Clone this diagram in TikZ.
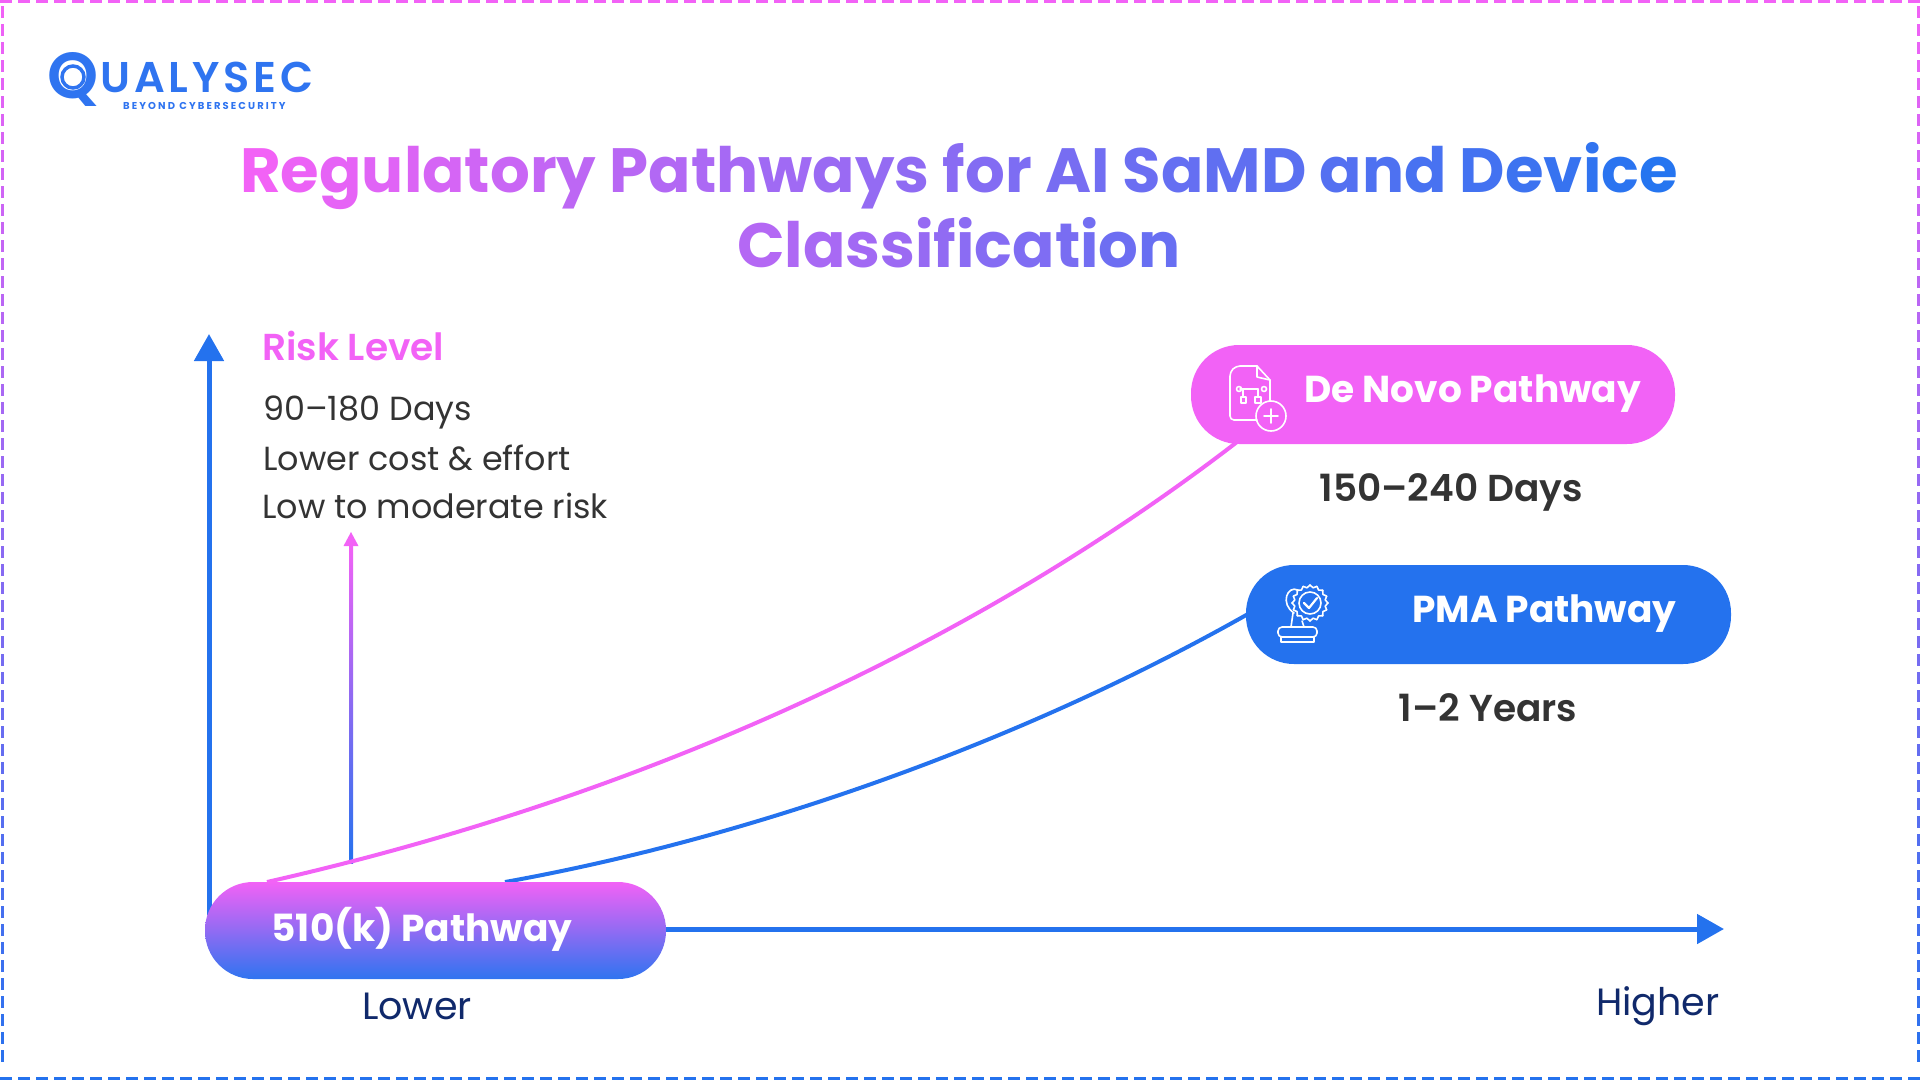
\documentclass[tikz,border=0pt]{standalone}
\usepackage{fontspec}
\setmainfont{Poppins}
\newfontfamily\semifont{Poppins SemiBold}
\usetikzlibrary{calc,arrows.meta}
\definecolor{qpink}{HTML}{F262F6}
\definecolor{qblue}{HTML}{2472EE}
\definecolor{qlogo}{HTML}{2F74F0}
\definecolor{qnavy}{HTML}{10296B}
\definecolor{qtext}{HTML}{333333}
\newcount\gradpos
\def\gradscan#1{\ifx#1\relax\else\textcolor{qpink!\the\gradpos!qlogo}{#1}\global\advance\gradpos by -3 \expandafter\gradscan\fi}
\newcommand\gradword[1]{\gradscan#1\relax}
\newcommand\fsize[1]{\fontsize{#1}{#1}\selectfont}
\tikzset{
  txt/.style={anchor=base west,inner sep=0pt},
  mid/.style={anchor=base,inner sep=0pt},
  pill/.style={rounded corners=48pt,inner sep=0pt,minimum height=99pt},
  axisline/.style={draw=qblue,line width=5pt,-{Triangle[length=27pt,width=29pt]}},
  curveline/.style={line width=4pt},
  iconline/.style={draw=white,line width=1.6pt,line join=round,line cap=round},
}
\begin{document}
\begin{tikzpicture}[x=1pt,y=-1pt]
  \useasboundingbox (0,0) rectangle (1920,1080);
  % dashed frame
  \draw[qpink,line width=3pt,dash pattern=on 12pt off 6pt] (0,1.5) -- (1920,1.5);
  \draw[qblue,line width=3pt,dash pattern=on 12pt off 6pt] (0,1078) -- (1920,1078);
  \foreach \yy in {6,24,...,1062} {
    \pgfmathsetmacro\mixv{100-\yy/10.8}
    \draw[qpink!\mixv!qblue,line width=3pt] (2,\yy) -- +(0,12);
    \draw[qpink!\mixv!qblue,line width=3pt] (1918,\yy) -- +(0,12);
  }
  % logo
  \node[txt,text=qlogo] (logoq) at (47,98) {\semifont\fsize{65}Q};
  \node[txt,text=qlogo] (logoname) at (100,92)
    {\semifont\fsize{43}\addfontfeature{LetterSpace=9}UALYSEC};
  \node[txt,text=qlogo] (logotag) at (123,109)
    {\bfseries\fsize{10}\addfontfeature{LetterSpace=21}BEYOND CYBERSECURITY};
  \draw[qlogo,line width=3.5pt] (73,77) circle (11);
  % title
  \gradpos=100
  \node[mid] (titleone) at (959,192.5) {\bfseries\fsize{62.5}\gradword{Regulatory} \gradword{Pathways}
    \gradword{for} \gradword{AI} \gradword{SaMD} \gradword{and} \gradword{Device}};
  \gradpos=68
  \node[mid] (titletwo) at (959,267) {\bfseries\fsize{62.5}\gradword{Classification}};
  % axes
  \coordinate (ytip) at (209,334);
  \coordinate (ybase) at (209,915);
  \coordinate (xtip) at (1724,929);
  \draw[axisline] (ybase) -- (ytip);
  % risk arrow
  \coordinate (risktip) at (351,532);
  \fill[top color=qpink,bottom color=qblue] (349,545) rectangle (353,863);
  \fill[qpink] (risktip) -- (358.5,546) -- (343.5,546) -- cycle;
  % curves
  \coordinate (pinkstart) at (267,882);
  \coordinate (pinkend) at (1237,442);
  \coordinate (bluestart) at (505,882);
  \coordinate (blueend) at (1248,614);
  \draw[curveline,qpink] (pinkstart) .. controls (650,795) and (980,640) .. (pinkend);
  \draw[curveline,qblue] (bluestart) .. controls (750,838) and (1020,743) .. (blueend);
  % pills
  \node[pill,minimum width=461pt,minimum height=97pt,top color=qpink,bottom color=qlogo] (pathk) at (435.5,930.5) {};
  \node[pill,minimum width=484pt,fill=qpink] (denovo) at (1433,394.5) {};
  \node[pill,minimum width=485pt,fill=qblue] (pma) at (1488.5,614.5) {};
  \draw[axisline] (pathk.east |- xtip) -- (xtip);
  % pill texts
  \node[mid,text=white] (pathklabel) at (422,941.5) {\bfseries\fsize{37.5}510(k) Pathway};
  \node[txt,text=white] (denovolabel) at (1304,402.5) {\bfseries\fsize{37.5}De Novo Pathway};
  \node[txt,text=white] (pmalabel) at (1412,622.5) {\bfseries\fsize{37.5}PMA Pathway};
  % de novo icon
  \draw[iconline,rounded corners=4pt] (1257,366) -- (1236,366) -- (1230,372) -- (1230,420) -- (1257,420);
  \draw[iconline] (1257,366) -- (1270,380) -- (1270,401);
  \draw[iconline] (1257,366) -- (1257,377) -- (1270,380);
  \draw[iconline] (1271,416) circle (15);
  \draw[iconline] (1264,416) -- (1278,416) (1271,409) -- (1271,423);
  \draw[iconline] (1240,389) -- (1258,389);
  \draw[iconline] (1243,389) -- (1243,397);
  \draw[iconline] (1258,389) -- (1258,397);
  \draw[iconline] (1239,389) circle (2.5) (1264,389) circle (2.5);
  \draw[iconline] (1241,397) rectangle (1246,403) (1255,397) rectangle (1261,403);
  % pma icon
  \coordinate (gear) at (1310,603);
  \foreach \aa in {0,22.5,...,337.5} {
    \draw[iconline] ($(gear)+(\aa:18)$) -- ($(gear)+(\aa+11.25:15.5)$) -- ($(gear)+(\aa+22.5:18)$);
  }
  \draw[iconline] (gear) circle (11);
  \draw[iconline,line width=2.2pt] (1304,603) -- (1309,608) -- (1317,598);
  \draw[iconline] (1298,590) .. controls (1287,585) and (1280,604) .. (1294,613);
  \draw[iconline] (1293,613) -- (1291,627) (1302,621) -- (1304,627);
  \draw[iconline,rounded corners=4pt] (1278,637) rectangle (1317,627);
  \draw[iconline] (1281,637) -- (1281,642) -- (1314,642) -- (1314,637);
  % labels
  \node[txt,text=qpink] (risk) at (262,360) {\semifont\fsize{37.5}Risk Level};
  \node[txt,text=qtext] (days) at (263,420) {\fsize{33.4}90–180 Days};
  \node[txt,text=qtext] (cost) at (263,470) {\fsize{33.4}Lower cost \& effort};
  \node[txt,text=qtext] (lowrisk) at (262,518) {\fsize{33.4}Low to moderate risk};
  \node[mid,text=qtext] (denovodays) at (1451,501) {\semifont\fsize{37.5}150–240 Days};
  \node[mid,text=qtext] (pmayears) at (1488,721) {\semifont\fsize{37.5}1–2 Years};
  \node[mid,text=qnavy] (lower) at (417,1019) {\fsize{38}Lower};
  \node[mid,text=qnavy] (higher) at (1658,1015) {\fsize{38}Higher};
\end{tikzpicture}
\end{document}
